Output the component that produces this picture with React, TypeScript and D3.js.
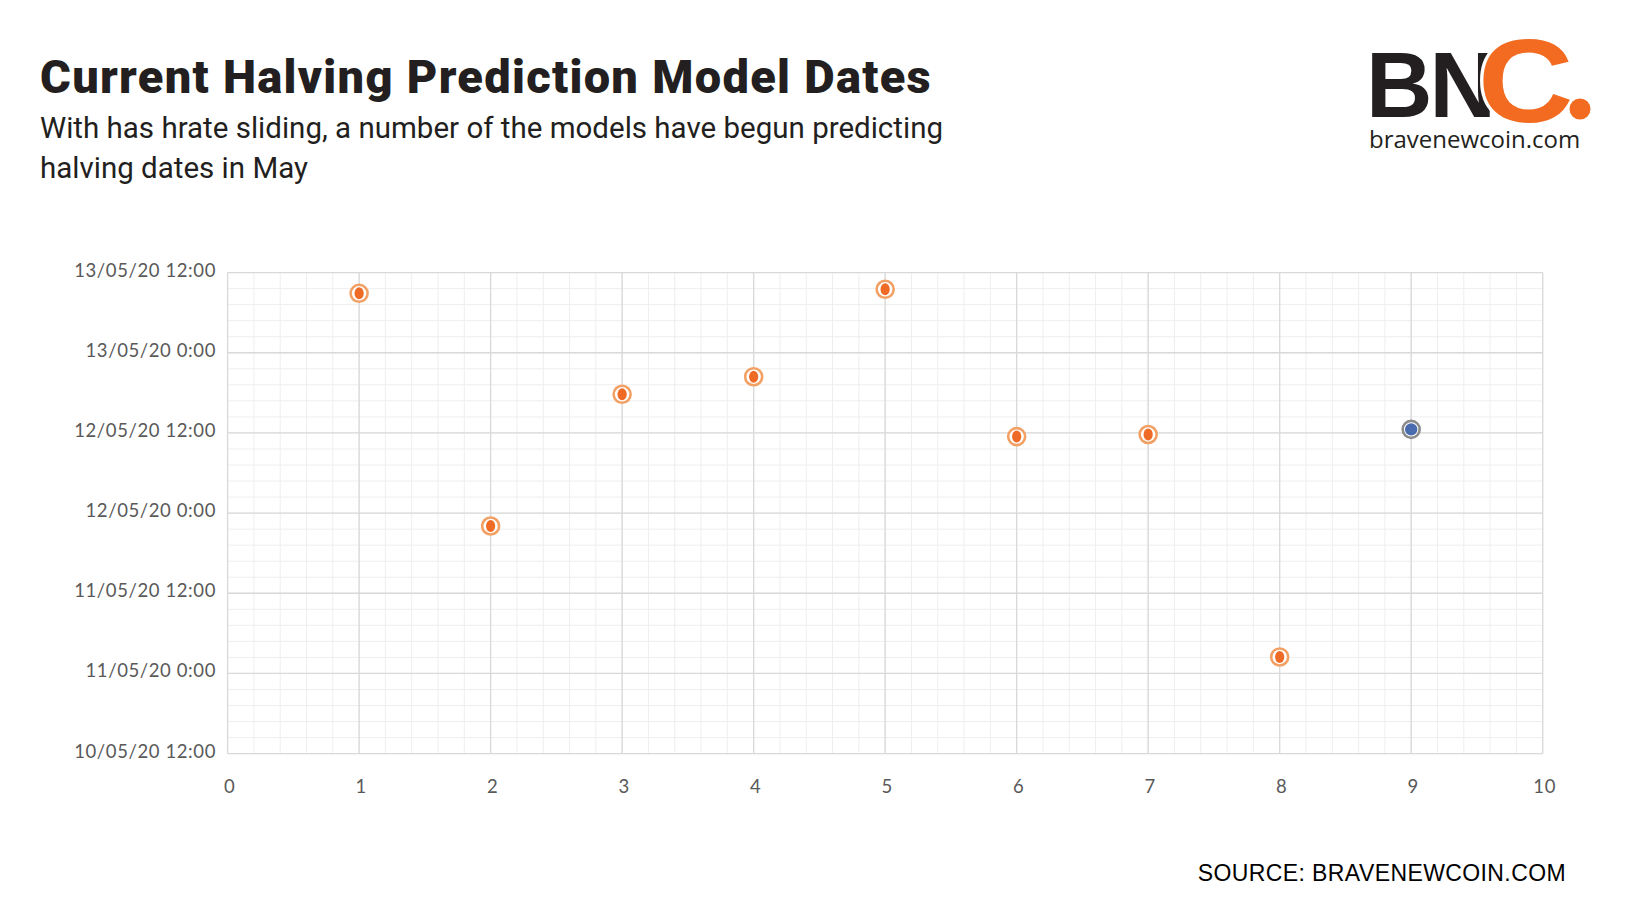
import React from "react";
import * as d3 from "d3";

const modelIds = [1, 2, 3, 4, 5, 6, 7, 8, 9];
const predictedDates = [
  "13/05/20 08:54",
  "11/05/20 22:04",
  "12/05/20 17:47",
  "12/05/20 20:25",
  "13/05/20 09:30",
  "12/05/20 11:27",
  "12/05/20 11:46",
  "11/05/20 02:28",
  "12/05/20 12:32",
];
const pointGroup = ["model", "model", "model", "model", "model", "model", "model", "model", "current"];
const xTicks = [0, 1, 2, 3, 4, 5, 6, 7, 8, 9, 10];
const yDomainLabels = ["10/05/20 12:00", "13/05/20 12:00"];

const W = 1630;
const H = 924;
const plot = { left: 227.6, right: 1542.7, top: 272.6, bottom: 753.6 };

export default function App() {
  const parse = d3.timeParse("%d/%m/%y %H:%M");
  const fmt = d3.timeFormat("%d/%m/%y %-H:%M");
  const y0 = parse(yDomainLabels[0]) as Date;
  const y1 = parse(yDomainLabels[1]) as Date;
  const x = d3.scaleLinear().domain([0, 10]).range([plot.left, plot.right]);
  const y = d3.scaleTime().domain([y0, y1]).range([plot.bottom, plot.top]);

  const majorY = d3.timeHour.every(12)!.range(y0, new Date(y1.getTime() + 1));
  const minorY: Date[] = [];
  for (let t = y0.getTime(); t <= y1.getTime() + 1; t += 2.4 * 3600 * 1000) minorY.push(new Date(t));
  const minorX = d3.range(0, 10.001, 0.2);

  const points = modelIds.map((m, i) => ({ m, d: parse(predictedDates[i]) as Date, g: pointGroup[i] }));

  return (
    <svg width={W} height={H} style={{ position: "absolute", left: 0, top: 0, background: "#fff" }}>
      <rect x={0} y={0} width={W} height={H} fill="#fff" />
      {/* Title */}
      <text x={40} y={93} fontFamily="Roboto, sans-serif" fontWeight={900} fontSize={47} fill="#231f20" letterSpacing={1.3}>
        Current Halving Prediction Model Dates
      </text>
      <text x={40} y={138} fontFamily="Roboto, sans-serif" fontWeight={400} fontSize={29.5} fill="#231f20">
        With has hrate sliding, a number of the models have begun predicting
      </text>
      <text x={40} y={178} fontFamily="Roboto, sans-serif" fontWeight={400} fontSize={29.5} fill="#231f20">
        halving dates in May
      </text>

      {/* Logo */}
      <g fontFamily="'Liberation Sans', Arial, sans-serif" fontWeight={700}>
        <text x={1366} y={117} fontSize={92} fill="#231f20" letterSpacing={-3}>BN</text>
        <text transform="translate(1478,122) scale(1.12,1)" fontSize={118} fill="#f26b21" stroke="#fff" strokeWidth={6} paintOrder="stroke">C</text>
        <circle cx={1580} cy={109} r={10.5} fill="#f26b21" />
        <text x={1369} y={148} fontSize={24} fontWeight={400} fontFamily="'Open Sans', sans-serif" fill="#231f20">bravenewcoin.com</text>
      </g>

      {/* Grid minor */}
      <g stroke="#eeeeee" strokeWidth={1}>
        {minorX.map((v, i) => (
          <line key={"mx" + i} x1={x(v)} x2={x(v)} y1={plot.top} y2={plot.bottom} />
        ))}
        {minorY.map((d, i) => (
          <line key={"my" + i} x1={plot.left} x2={plot.right} y1={y(d)} y2={y(d)} />
        ))}
      </g>
      {/* Grid major */}
      <g stroke="#d9d9d9" strokeWidth={1.3}>
        {xTicks.map((v) => (
          <line key={"Mx" + v} x1={x(v)} x2={x(v)} y1={plot.top} y2={plot.bottom} />
        ))}
        {majorY.map((d, i) => (
          <line key={"My" + i} x1={plot.left} x2={plot.right} y1={y(d)} y2={y(d)} />
        ))}
      </g>

      {/* Axis labels */}
      <g fontFamily="Lato, sans-serif" fontSize={18.5} fill="#595959" letterSpacing={0.6}>
        {majorY.map((d, i) => (
          <text key={"yl" + i} x={216} y={y(d) + 4} textAnchor="end">{fmt(d)}</text>
        ))}
        {xTicks.map((v) => (
          <text key={"xl" + v} x={x(v) + 2} y={793} textAnchor="middle">{v}</text>
        ))}
      </g>

      {/* Points */}
      {points.map((p) =>
        p.g === "model" ? (
          <g key={p.m} transform={`translate(${x(p.m)},${y(p.d)})`}>
            <circle r={8.5} fill="#fff" stroke="#f3a064" strokeWidth={2.6} />
            <ellipse rx={4.6} ry={6} fill="#ef6b25" />
          </g>
        ) : (
          <g key={p.m} transform={`translate(${x(p.m)},${y(p.d)})`}>
            <circle r={8.5} fill="#fff" stroke="#8c8c8c" strokeWidth={2.6} />
            <circle r={6.2} fill="#4a6cae" />
          </g>
        )
      )}

      {/* Source */}
      <text x={1566} y={881} textAnchor="end" fontFamily="'Liberation Sans', Arial, sans-serif" fontSize={23} letterSpacing={0.4} fill="#000">
        SOURCE: BRAVENEWCOIN.COM
      </text>
    </svg>
  );
}
